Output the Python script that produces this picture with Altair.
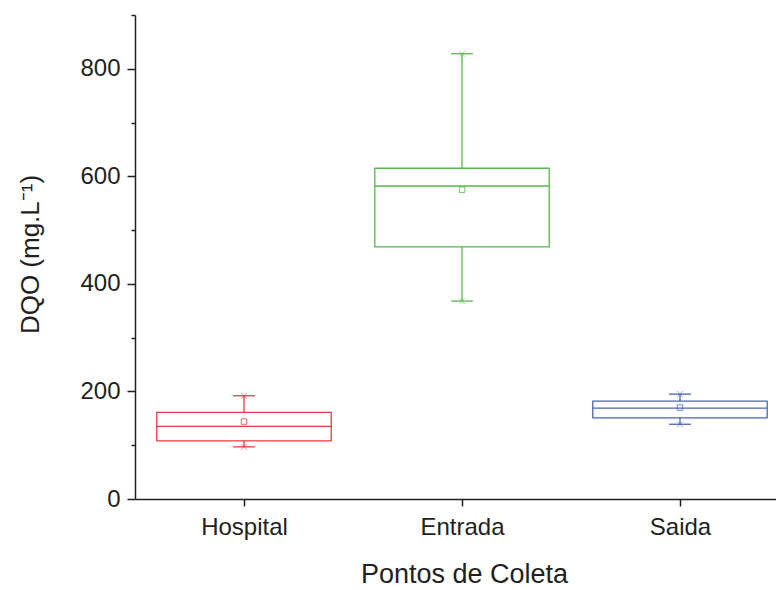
import altair as alt
import pandas as pd

categories = ["Hospital", "Entrada", "Saida"]
positions = [1, 2, 3]
mins = [97, 368, 139]
q1s = [108, 469, 151]
medians = [135, 582, 169]
q3s = [161, 615, 182]
maxs = [192, 828, 195]
means = [144, 575, 170]
colors = ["#e8383f", "#55b84a", "#4a63b6"]

df = pd.DataFrame({
    "cat": categories, "pos": positions, "min": mins, "q1": q1s,
    "median": medians, "q3": q3s, "max": maxs, "mean": means,
})

W, H = 641, 484
xscale = alt.Scale(domain=[0.5, 0.5 + W / 218.0], nice=False, zero=False)
yscale = alt.Scale(domain=[0, 900], nice=False)
col = alt.Color("cat:N", scale=alt.Scale(domain=categories, range=colors), legend=None)

base = alt.Chart(df).transform_calculate(
    xl="datum.pos - 0.4", xr="datum.pos + 0.4",
    cl="datum.pos - 0.05", cr="datum.pos + 0.05",
)

xaxis = alt.Axis(
    values=[1, 2, 3], title="Pontos de Coleta",
    labelExpr="datum.value == 1 ? 'Hospital' : datum.value == 2 ? 'Entrada' : 'Saida'",
    grid=False, tickSize=7, labelPadding=9, titlePadding=22, titleFontSize=27,
    titleX=329,
)
yaxis = alt.Axis(
    values=[0, 100, 200, 300, 400, 500, 600, 700, 800, 900],
    labelExpr="datum.value % 200 == 0 && datum.value < 900 ? datum.label : ''",
    tickSize={"condition": {"test": "datum.value % 200 == 0 && datum.value < 900", "value": 8}, "value": 4},
    title="DQO (mg.L⁻¹)", grid=False, labelPadding=7, titlePadding=36, titleFontSize=26,
    titleY=239,
)

box = base.mark_rect(fillOpacity=0, strokeWidth=1.3).encode(
    x=alt.X("xl:Q", scale=xscale, axis=xaxis), x2="xr:Q",
    y=alt.Y("q1:Q", scale=yscale, axis=yaxis), y2="q3:Q",
    stroke=col,
)
med = base.mark_rule(strokeWidth=1.3).encode(
    x=alt.X("xl:Q", scale=xscale), x2="xr:Q", y=alt.Y("median:Q", scale=yscale), color=col)
wu = base.mark_rule(strokeWidth=1.3).encode(
    x=alt.X("pos:Q", scale=xscale), y=alt.Y("q3:Q", scale=yscale), y2="max:Q", color=col)
wl = base.mark_rule(strokeWidth=1.3).encode(
    x=alt.X("pos:Q", scale=xscale), y=alt.Y("min:Q", scale=yscale), y2="q1:Q", color=col)
cu = base.mark_rule(strokeWidth=1.3).encode(
    x=alt.X("cl:Q", scale=xscale), x2="cr:Q", y=alt.Y("max:Q", scale=yscale), color=col)
cl = base.mark_rule(strokeWidth=1.3).encode(
    x=alt.X("cl:Q", scale=xscale), x2="cr:Q", y=alt.Y("min:Q", scale=yscale), color=col)
xshape = "M-1,-1L1,1M-1,1L1,-1"
pu = base.mark_point(shape=xshape, filled=False, size=35, strokeWidth=0.8).encode(
    x=alt.X("pos:Q", scale=xscale), y=alt.Y("max:Q", scale=yscale), color=col)
pl = base.mark_point(shape=xshape, filled=False, size=35, strokeWidth=0.8).encode(
    x=alt.X("pos:Q", scale=xscale), y=alt.Y("min:Q", scale=yscale), color=col)
mn = base.mark_point(shape="square", filled=False, size=30, strokeWidth=0.8, opacity=1).encode(
    x=alt.X("pos:Q", scale=xscale), y=alt.Y("mean:Q", scale=yscale), color=col)

chart = alt.layer(box, med, wu, wl, cu, cl, pu, pl, mn).properties(
    width=W, height=H,
    autosize=alt.AutoSizeParams(type="none"),
    padding={"left": 135, "top": 15, "right": 0, "bottom": 91},
).configure_view(stroke=None).configure_axis(
    labelFont="Liberation Sans", titleFont="Liberation Sans",
    labelFontSize=24, titleFontWeight="normal",
    labelColor="#231f20", titleColor="#231f20",
    domainColor="#231f20", tickColor="#231f20", domainWidth=1.5, tickWidth=1.5,
)

chart.save("out.html", embed_options={"renderer": "svg", "actions": False})
